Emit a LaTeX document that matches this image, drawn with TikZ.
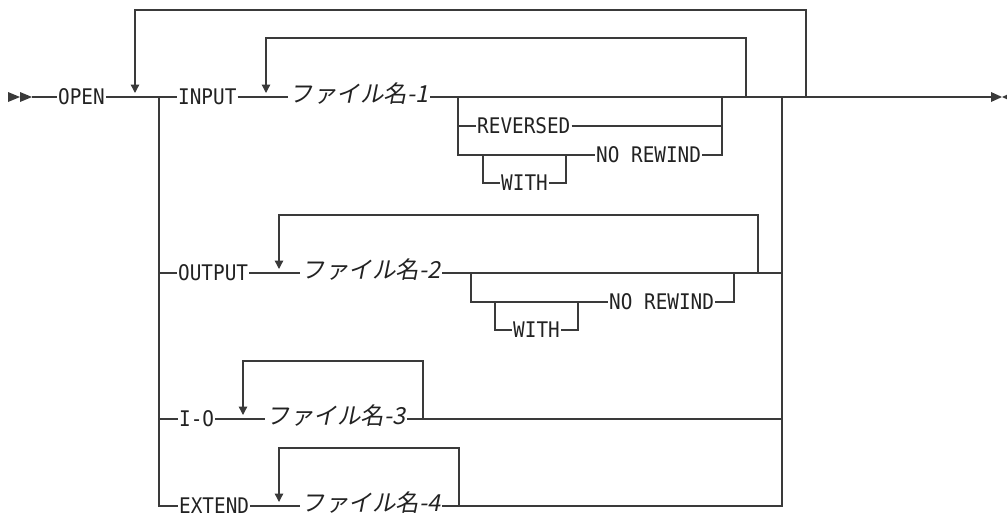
\documentclass[tikz,border=0pt]{standalone}
\usepackage{fontspec}
\usetikzlibrary{arrows.meta}
\newfontfamily\kwfont[FakeStretch=0.9]{DejaVu Sans Mono}
\newfontfamily\jpfont[FakeSlant=0.2]{Noto Sans CJK JP}
\definecolor{railgray}{HTML}{3A3A3A}
\definecolor{ink}{HTML}{222222}

\begin{document}
\begin{tikzpicture}[x=1pt,y=-1pt,
  rail/.style={draw=railgray, line width=1.3pt},
  loop/.style={rail, -{Triangle[width=8.5pt,length=8.5pt]}},
  kw/.style={anchor=west, inner xsep=1pt, inner ysep=0pt, text=ink, font=\kwfont\fontsize{21.5}{22}\selectfont, text height=15.6pt, text depth=0pt},
  fname/.style={anchor=west, inner xsep=1.5pt, inner ysep=0pt, text=ink, font=\jpfont\fontsize{23.5}{24}\selectfont, text height=11pt, text depth=0pt},
]
\useasboundingbox (0,0) rectangle (1007,512);
% start of the statement
\fill[railgray] (8,92) -- (20,97) -- (8,102) -- cycle (20,92) -- (32,97) -- (20,102) -- cycle;
\coordinate (start) at (32,97);
\node[kw] (open) at (57,97) {OPEN};
\coordinate (split) at (159,97);
\coordinate (join) at (782,97);
\coordinate (end) at (991,97);
\draw[rail] (start) -- (open);
\draw[rail] (open) -- (split);
% outer repeat loop
\coordinate (rep0) at (806,97);
\coordinate (rep0top) at (135,10);
\coordinate (rep0in) at (135,93);
\draw[loop] (rep0) |- (rep0top) -- (rep0in);

% (a) INPUT
\node[kw] (input) at (177,97) {INPUT};
\node[fname] (fn1) at (288,97) {ファイル名-1};
\draw[rail] (split) -- (input);
\draw[rail] (input) -- (fn1);
\draw[rail] (fn1) -- (end);
\coordinate (rep1) at (746,97);
\coordinate (rep1top) at (266,38);
\coordinate (rep1in) at (266,93);
\draw[loop] (rep1) |- (rep1top) -- (rep1in);
\coordinate (r1a) at (458,97);
\coordinate (r1b) at (722,97);
\node[kw] (rev) at (476,126) {REVERSED};
\node[kw] (norw1) at (595,155) {NO REWIND};
\node[kw] (with1) at (500,183) {WITH};
\coordinate (w1a) at (483,155);
\coordinate (w1b) at (566,155);
\draw[rail] (r1a) |- (rev);
\draw[rail] (rev) -| (r1b);
\draw[rail] (r1a) |- (norw1);
\draw[rail] (norw1) -| (r1b);
\draw[rail] (w1a) |- (with1);
\draw[rail] (with1) -| (w1b);

% (b) OUTPUT
\coordinate (split2) at (159,273);
\coordinate (join2) at (782,273);
\node[kw] (output) at (177,273) {OUTPUT};
\node[fname] (fn2) at (300,273) {ファイル名-2};
\draw[rail] (split2) -- (output);
\draw[rail] (output) -- (fn2);
\draw[rail] (fn2) -- (join2);
\coordinate (rep2) at (758,273);
\coordinate (rep2top) at (279,215);
\coordinate (rep2in) at (279,269);
\draw[loop] (rep2) |- (rep2top) -- (rep2in);
\coordinate (r2a) at (471,273);
\coordinate (r2b) at (734,273);
\node[kw] (norw2) at (608,302) {NO REWIND};
\node[kw] (with2) at (512,330) {WITH};
\coordinate (w2a) at (495,302);
\coordinate (w2b) at (578,302);
\draw[rail] (r2a) |- (norw2);
\draw[rail] (norw2) -| (r2b);
\draw[rail] (w2a) |- (with2);
\draw[rail] (with2) -| (w2b);

% (c) I-O
\coordinate (split3) at (159,419);
\coordinate (join3) at (782,419);
\node[kw] (io) at (178,419) {I-O};
\node[fname] (fn3) at (265,419) {ファイル名-3};
\draw[rail] (split3) -- (io);
\draw[rail] (io) -- (fn3);
\draw[rail] (fn3) -- (join3);
\coordinate (rep3) at (423,419);
\coordinate (rep3top) at (243,361);
\coordinate (rep3in) at (243,415);
\draw[loop] (rep3) |- (rep3top) -- (rep3in);

% (d) EXTEND
\node[kw] (extend) at (178,506) {EXTEND};
\node[fname] (fn4) at (300,506) {ファイル名-4};
\draw[rail] (split) |- (extend);
\draw[rail] (extend) -- (fn4);
\draw[rail] (fn4) -| (join);
\coordinate (rep4) at (459,506);
\coordinate (rep4top) at (279,448);
\coordinate (rep4in) at (279,502);
\draw[loop] (rep4) |- (rep4top) -- (rep4in);

% end of the statement
\fill[railgray] (991,92) -- (1002,97) -- (991,102) -- cycle (1013,92) -- (1002,97) -- (1013,102) -- cycle;
\end{tikzpicture}
\end{document}
